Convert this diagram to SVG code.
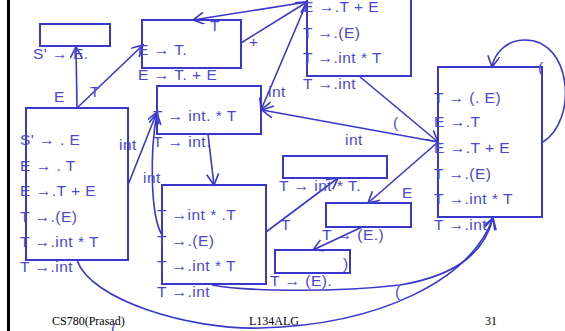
<svg xmlns="http://www.w3.org/2000/svg" width="565" height="331" viewBox="0 0 565 331">
<style>
.box{fill:none;stroke:#3838cc;stroke-width:2}
.ln{fill:none;stroke:#3838cc;stroke-width:1.6}
.t{font-family:"Liberation Sans",Arial,sans-serif;font-size:15.5px;letter-spacing:0.5px;fill:#4848d4}
.f{font-family:"Liberation Serif","Times New Roman",serif;font-size:12px;fill:#000}
</style>
<defs>
<marker id="ah" markerUnits="userSpaceOnUse" markerWidth="14" markerHeight="14" refX="12" refY="6" orient="auto">
<path d="M1,0 L12,6 L1,12" fill="none" stroke="#3838cc" stroke-width="1.6"/>
</marker>
</defs>
<rect x="7" y="0" width="3" height="331" fill="#000"/>
<g id="connectors">
<line class="ln" x1="77" y1="108" x2="76" y2="47" marker-end="url(#ah)"/>
<line class="ln" x1="77" y1="108" x2="143" y2="45" marker-end="url(#ah)"/>
<line class="ln" x1="307" y1="2" x2="193" y2="20" marker-end="url(#ah)"/>
<line class="ln" x1="241" y1="43" x2="307" y2="2" marker-end="url(#ah)"/>
<line class="ln" x1="307" y1="2" x2="261" y2="110" marker-end="url(#ah)"/>
<line class="ln" x1="438" y1="142" x2="262" y2="110" marker-end="url(#ah)"/>
<line class="ln" x1="359" y1="76" x2="438" y2="142" marker-end="url(#ah)"/>
<line class="ln" x1="128" y1="185" x2="157" y2="112" marker-end="url(#ah)"/>
<path class="ln" d="M162,235 C150,215 150,150 157,113" marker-end="url(#ah)"/>
<line class="ln" x1="208" y1="134" x2="214" y2="185" marker-end="url(#ah)"/>
<line class="ln" x1="266" y1="232" x2="338" y2="178" marker-end="url(#ah)"/>
<line class="ln" x1="438" y1="142" x2="368" y2="203" marker-end="url(#ah)"/>
<line class="ln" x1="362" y1="227" x2="313" y2="250" marker-end="url(#ah)"/>
<path class="ln" d="M77,260 C90,300 190,330 260,328 C380,325 470,280 493,218" marker-end="url(#ah)"/>
<path class="ln" d="M212,285 C250,292 340,292 400,285 C460,275 485,250 493,218" marker-end="url(#ah)"/>
<path class="ln" d="M543,142 C578,120 572,40 525,40 C505,40 494,55 492,67" marker-end="url(#ah)"/>
</g>
<g id="n_A">
<rect class="box" x="40" y="24" width="70" height="22"/>
<text class="t" x="33" y="59">S' → E.</text>
</g>
<g id="n_B">
<rect class="box" x="142" y="20" width="99" height="48"/>
<text class="t" x="138" y="55">E → T.</text>
<text class="t" x="138" y="80">E → T. + E</text>
</g>
<g id="n_C">
<rect class="box" x="307" y="-14" width="104" height="90"/>
<text class="t" x="303" y="12">E →.T + E</text>
<text class="t" x="303" y="38">T →.(E)</text>
<text class="t" x="303" y="63">T →.int * T</text>
<text class="t" x="303" y="89">T →.int</text>
</g>
<g id="n_0">
<rect class="box" x="26" y="108" width="102" height="152"/>
<text class="t" x="20" y="145">S' → . E</text>
<text class="t" x="20" y="171">E → . T</text>
<text class="t" x="20" y="196">E →.T + E</text>
<text class="t" x="20" y="222">T →.(E)</text>
<text class="t" x="20" y="247">T →.int * T</text>
<text class="t" x="20" y="272">T →.int</text>
</g>
<g id="n_D">
<rect class="box" x="157" y="86" width="104" height="48"/>
<text class="t" x="153" y="121">T → int. * T</text>
<text class="t" x="153" y="147">T → int.</text>
</g>
<g id="n_E">
<rect class="box" x="162" y="185" width="104" height="99"/>
<text class="t" x="157" y="220">T →int * .T</text>
<text class="t" x="157" y="246">T →.(E)</text>
<text class="t" x="157" y="271">T →.int * T</text>
<text class="t" x="157" y="297">T →.int</text>
</g>
<g id="n_F">
<rect class="box" x="283" y="156" width="104" height="22"/>
<text class="t" x="279" y="191">T → int * T.</text>
</g>
<g id="n_G">
<rect class="box" x="326" y="203" width="85" height="24"/>
<text class="t" x="322" y="240">T → (E.)</text>
</g>
<g id="n_H">
<rect class="box" x="275" y="250" width="75" height="23"/>
<text class="t" x="270" y="286">T → (E).</text>
</g>
<g id="n_I">
<rect class="box" x="438" y="67" width="104" height="150"/>
<text class="t" x="434" y="103">T → (. E)</text>
<text class="t" x="434" y="127">E →.T</text>
<text class="t" x="434" y="153">E →.T + E</text>
<text class="t" x="434" y="179">T →.(E)</text>
<text class="t" x="434" y="204">T →.int * T</text>
<text class="t" x="434" y="230">T →.int</text>
</g>
<g id="labels">
<text class="t" x="54" y="102">E</text>
<text class="t" x="90" y="97">T</text>
<text class="t" x="210" y="31">T</text>
<text class="t" x="249" y="47">+</text>
<text class="t" x="268" y="97">int</text>
<text class="t" x="393" y="128">(</text>
<text class="t" x="345" y="145">int</text>
<text class="t" x="119" y="150">int</text>
<text class="t" x="143" y="183">int</text>
<text class="t" x="281" y="230">T</text>
<text class="t" x="402" y="198">E</text>
<text class="t" x="343" y="269">)</text>
<text class="t" x="395" y="297">(</text>
<text class="t" x="111" y="334">(</text>
<text class="t" x="538" y="73">(</text>
</g>
<g id="footer">
<text class="f" x="52" y="325">CS780(Prasad)</text>
<text class="f" x="249" y="325">L134ALG</text>
<text class="f" x="485" y="325">31</text>
</g>
</svg>
